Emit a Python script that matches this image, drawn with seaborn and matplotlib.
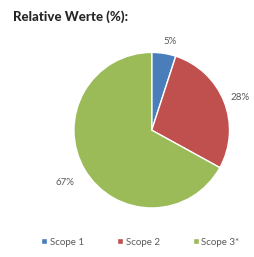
import matplotlib
matplotlib.use("Agg")
import matplotlib.pyplot as plt
import seaborn as sns

sns.set_theme(style="white")
plt.rcParams['font.family'] = ['Lato', 'DejaVu Sans']

# données
categories = ["Scope 1", "Scope 2", "Scope 3*"]
valeurs = [5, 28, 67]
etiquettes = ["5%", "28%", "67%"]
couleurs = ["#4A7EBB", "#C0504D", "#9BBB59"]

fig = plt.figure(figsize=(2.55, 2.57), dpi=100)
fig.patch.set_facecolor("white")
ax = fig.add_axes([0.29, 0.19, 0.61, 0.607])

wedges, textes = ax.pie(valeurs, colors=couleurs, startangle=90, counterclock=False,
                        labels=etiquettes, labeldistance=1.15,
                        wedgeprops=dict(edgecolor="white", linewidth=1),
                        textprops=dict(color="#595959", fontsize=7))
# placement des étiquettes comme dans Excel
positions = [(0.23, 1.14), (1.13, 0.42), (-1.12, -0.67)]
for t, p in zip(textes, positions):
    t.set_position(p)
    t.set_ha("center")
    t.set_va("center")
ax.set_xlim(-1, 1)
ax.set_ylim(-1, 1)
ax.set_aspect("equal")

fig.text(0.05, 0.92, "Relative Werte (%):", fontsize=9.5, fontweight="black", color="#262626")

fig.legend(wedges, categories, loc="center", bbox_to_anchor=(0.55, 0.058), ncol=3,
           frameon=False, fontsize=7, handlelength=0.6, handleheight=0.6,
           handletextpad=0.3, columnspacing=3.4, labelcolor="#595959")

fig.savefig("out.png", dpi=100)
